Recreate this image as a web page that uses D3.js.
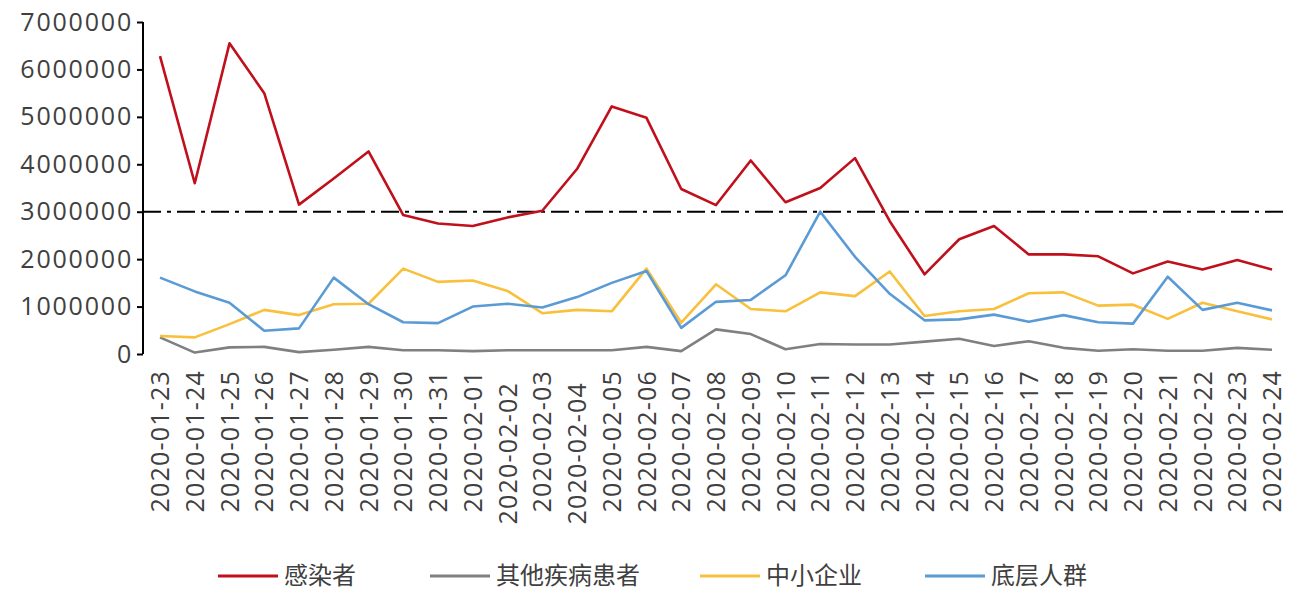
<!doctype html>
<html>
<head>
<meta charset="UTF-8">
<script src="https://d3js.org/d3.v7.min.js"></script>
<style>
body { margin: 0; background: #fff; }
text { font-family: "Open Sans", "Noto Sans CJK SC", sans-serif; fill: #404040; }
</style>
</head>
<body>
<div id="chart"></div>
<script>
var dates = ["2020-01-23","2020-01-24","2020-01-25","2020-01-26","2020-01-27","2020-01-28","2020-01-29","2020-01-30","2020-01-31",
	"2020-02-01","2020-02-02","2020-02-03","2020-02-04","2020-02-05","2020-02-06","2020-02-07","2020-02-08","2020-02-09","2020-02-10",
	"2020-02-11","2020-02-12","2020-02-13","2020-02-14","2020-02-15","2020-02-16","2020-02-17","2020-02-18","2020-02-19","2020-02-20",
	"2020-02-21","2020-02-22","2020-02-23","2020-02-24"];
var infected = [6.28,3.6,6.55,5.5,3.15,3.7,4.27,2.93,2.75,2.7,2.88,3.02,3.9,5.22,4.98,3.48,3.14,4.08,3.2,3.5,4.13,2.8,1.68,2.42,2.7,2.1,2.1,2.06,1.7,1.95,1.78,1.98,1.78];
var otherPatients = [0.35,0.03,0.14,0.15,0.04,0.09,0.15,0.08,0.08,0.06,0.08,0.08,0.08,0.08,0.15,0.06,0.52,0.42,0.1,0.21,0.2,0.2,0.26,0.32,0.17,0.27,0.13,0.07,0.1,0.07,0.07,0.13,0.09];
var smes = [0.38,0.35,0.63,0.93,0.82,1.05,1.06,1.8,1.52,1.55,1.33,0.86,0.93,0.9,1.8,0.66,1.47,0.95,0.9,1.3,1.22,1.74,0.8,0.9,0.95,1.28,1.3,1.02,1.04,0.74,1.08,0.9,0.73];
var lowIncome = [1.61,1.32,1.08,0.49,0.54,1.61,1.05,0.67,0.65,1.0,1.06,0.98,1.2,1.5,1.75,0.55,1.1,1.14,1.66,3.0,2.05,1.27,0.71,0.73,0.83,0.68,0.82,0.67,0.64,1.63,0.93,1.08,0.92];
var names = ["感染者","其他疾病患者","中小企业","底层人群"];
var colors = ["#c0101c","#808080","#f8c03c","#5b9bd5"];
var yTicks = [0,1000000,2000000,3000000,4000000,5000000,6000000,7000000];
var threshold = 3000000;
var shifted = ["2020-02-02","2020-02-04"]; // labels pushed down as in the original

var series = [infected, otherPatients, smes, lowIncome].map(a => a.map(v => v * 1e6));

var W = 1312, H = 610;
var margin = {left: 143, right: 35, top: 22, bottom: 256};
var svg = d3.select("#chart").append("svg").attr("width", W).attr("height", H);

var x = d3.scalePoint().domain(dates).range([160, 1272]);
var y = d3.scaleLinear().domain([0, 7000000]).range([H - margin.bottom, margin.top]);

// y axis
var ya = svg.append("g").attr("transform", "translate(" + margin.left + ",0)")
	.call(d3.axisLeft(y).tickValues(yTicks).tickFormat(d3.format("d")).tickSize(6).tickPadding(4));
ya.select(".domain").attr("stroke", "#000").attr("stroke-width", 2).attr("d", "M0," + y(7000000) + "V" + y(0));
ya.selectAll(".tick line").attr("stroke", "#000").attr("stroke-width", 2);
ya.selectAll("text").style("font-size", "25px").style("letter-spacing", "1.8px").attr("fill", "#404040");

// x labels
svg.append("g").selectAll("text").data(dates).enter().append("text")
	.attr("transform", d => "translate(" + (x(d) + 9) + "," + (370 + (shifted.includes(d) ? 12 : 0)) + ") rotate(-90)")
	.attr("text-anchor", "end")
	.style("font-size", "25px")
	.style("letter-spacing", "1.2px")
	.text(d => d);

// threshold line
svg.append("line")
	.attr("x1", margin.left).attr("x2", 1284)
	.attr("y1", y(threshold)).attr("y2", y(threshold))
	.attr("stroke", "#000").attr("stroke-width", 2)
	.attr("stroke-dasharray", "18,6,4,6");

var line = d3.line().x((d, i) => x(dates[i])).y(d => y(d));
svg.append("g").selectAll("path").data(series).enter().append("path")
	.attr("d", line)
	.attr("fill", "none")
	.attr("stroke", (d, i) => colors[i])
	.attr("stroke-width", 2.6)
	.attr("stroke-linejoin", "round");

// legend
var lx = [218, 430, 700, 925];
var lg = svg.append("g").selectAll("g").data(names).enter().append("g")
	.attr("transform", (d, i) => "translate(" + lx[i] + ",576)");
lg.append("line").attr("x1", 0).attr("x2", 60).attr("stroke", (d, i) => colors[i]).attr("stroke-width", 3);
lg.append("text").attr("x", 66).attr("dy", "0.35em").style("font-size", "24px").text(d => d);
</script>
</body>
</html>
